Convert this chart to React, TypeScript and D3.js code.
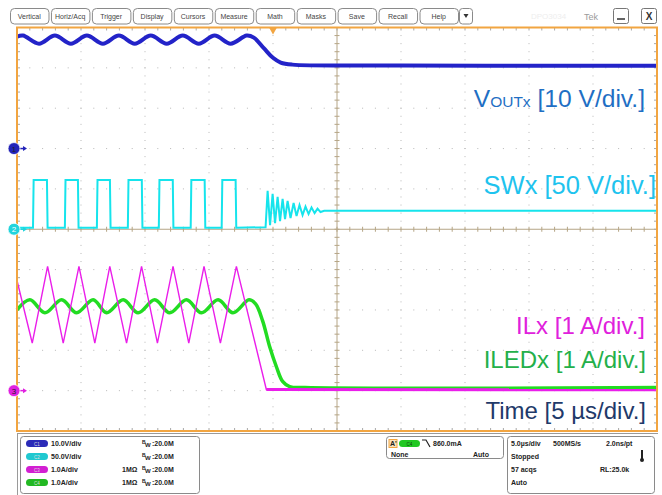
import * as d3 from 'd3'

// screen = 10 div x 5 µs, time measured from the left edge in µs
const TIME_DOMAIN: [number, number] = [0, 50]
const TRIGGER_T = 20

// per-channel units/div and ground offset (div from centre)
const CH_SCALE = { c1: 10, c2: 50, c3: 1, c4: 1 }
const CH_OFFSET = { c1: 2, c2: 0, c3: -4, c4: -4 }

// C1 VOUTx [V] : (µs, V)
const vout: [number, number][] = [
  [0, 27.7], [0.47, 28], [1.72, 26], [2.96, 28], [4.21, 26], [5.46, 28], [6.71, 26],
  [7.96, 28], [9.2, 26], [10.45, 28], [11.7, 26], [12.95, 28], [14.2, 26], [15.44, 28],
  [16.69, 26], [17.94, 28], [18.5, 27.5], [19.3, 24.8], [20.0, 22.5], [20.6, 21.3],
  [21.5, 20.8], [30, 20.6], [40, 20.5], [50, 20.5],
]

// C2 SWx [V]
const swRise = [1.25, 3.74, 6.24, 8.66, 11.08, 13.57, 15.99]
const swFall = [2.34, 4.76, 7.26, 9.75, 12.17, 14.66, 17.08]
const SW_HIGH = 61
const SW_LOW = 2
const swRing: [number, number][] = [
  [19.42, 2.5], [19.58, 47.5], [19.77, 5], [19.97, 43.8], [20.16, 7.5], [20.36, 40],
  [20.55, 10], [20.75, 37.5], [20.94, 12.5], [21.14, 35], [21.37, 13.8], [21.61, 32.5],
  [21.84, 16.3], [22.07, 30], [22.31, 17.5], [22.54, 28], [22.78, 18.8], [23.01, 27],
  [23.25, 20], [23.48, 25.6], [23.71, 21.3], [24.0, 23], [50, 23],
]

// C3 ILx [A]
const ilTroughs = [1.19, 3.61, 6.08, 8.56, 10.97, 13.42, 15.89]
const ilPeaks = [2.39, 4.84, 7.25, 9.73, 12.19, 14.61, 17.14]
const IL_PEAK = 3.08
const IL_TROUGH = 1.18
const ilStart: [number, number] = [0, 2.73]
const ilTail: [number, number][] = [[19.48, 0.03], [50, 0.02]]

// C4 ILEDx [A]
const iledPeaks = [1.01, 3.49, 5.95, 8.3, 10.76, 13.24, 15.71, 18.12]
const iledTroughs = [2.18, 4.66, 7.0, 9.46, 11.93, 14.41, 16.87]
const ILED_PEAK = 2.25
const ILED_TROUGH = 1.93
const iledStart: [number, number] = [0, 2.0]
const iledTail: [number, number][] = [
  [18.64, 2.15], [19.19, 1.73], [19.73, 1.1], [20.28, 0.58], [20.75, 0.23], [21.3, 0.1],
  [22.5, 0.075], [50, 0.075],
]

const menuItems = ['Vertical', 'Horiz/Acq', 'Trigger', 'Display', 'Cursors', 'Measure', 'Math', 'Masks', 'Save', 'Recall', 'Help']

const chRows = [
  { id: 'C1', color: '#2b2bb8', scale: '10.0V/div', imp: '' },
  { id: 'C2', color: '#20c8d0', scale: '50.0V/div', imp: '' },
  { id: 'C3', color: '#d21fd2', scale: '1.0A/div', imp: '1MΩ' },
  { id: 'C4', color: '#22b822', scale: '1.0A/div', imp: '1MΩ' },
]

const labels = [
  { main: 'V', sub: 'OUTx', rest: ' [10 V/div.]', color: '#1f6fc4', y: 107, right: 645, size: 24.6 },
  { main: 'SWx [50 V/div.]', sub: '', rest: '', color: '#1ec3ee', y: 194, right: 656, size: 25.5 },
  { main: 'ILx [1 A/div.]', sub: '', rest: '', color: '#e020dc', y: 334, right: 645, size: 24 },
  { main: 'ILEDx [1 A/div.]', sub: '', rest: '', color: '#24b04a', y: 368, right: 646, size: 24 },
  { main: 'Time [5 µs/div.]', sub: '', rest: '', color: '#1f3a6a', y: 419, right: 646, size: 24 },
]

const ORANGE = '#f2a541'
const FONT = '"Liberation Sans", Arial, sans-serif'

export default function App() {
  const x = d3.scaleLinear().domain(TIME_DOMAIN).range([17, 657])
  const y = d3.scaleLinear().domain([-5, 5]).range([431, 27.5])
  const chY = (ch: keyof typeof CH_SCALE, v: number) => y(v / CH_SCALE[ch] + CH_OFFSET[ch])

  const trace = (ch: keyof typeof CH_SCALE, curve: d3.CurveFactory) =>
    d3
      .line<[number, number]>()
      .x((d) => x(d[0]))
      .y((d) => chY(ch, d[1]))
      .curve(curve)

  // SW square wave
  const swPts: [number, number][] = [[0, SW_LOW]]
  swRise.forEach((r, i) => {
    swPts.push([r, SW_LOW], [r + 0.05, SW_HIGH], [swFall[i], SW_HIGH], [swFall[i] + 0.05, SW_LOW])
  })
  swPts.push(...swRing)

  const ilPts: [number, number][] = [ilStart]
  ilTroughs.forEach((t, i) => ilPts.push([t, IL_TROUGH], [ilPeaks[i], IL_PEAK]))
  ilPts.push(...ilTail)

  const iledPts: [number, number][] = [iledStart]
  iledPeaks.forEach((t, i) => {
    iledPts.push([t, ILED_PEAK])
    if (iledTroughs[i] !== undefined) iledPts.push([iledTroughs[i], ILED_TROUGH])
  })
  iledPts.push(...iledTail)

  const minorT = d3.range(0, 50.01, 1)
  const minorDiv = d3.range(-5, 5.01, 0.2)
  const majorT = d3.range(5, 50, 5)
  const majorDiv = d3.range(-4, 5, 1)

  const band = d3.scaleBand<string>().domain(menuItems).range([10, 458]).paddingInner(0.06)

  return (
    <svg width={662} height={495} style={{ position: 'absolute', left: 0, top: 0, background: '#fff' }} fontFamily={FONT}>
      {/* toolbar */}
      {menuItems.map((m) => (
        <g key={m}>
          <rect x={band(m)! + 0.5} y={8.5} width={band.bandwidth()} height={15.5} rx={4} fill="#fff" stroke="#8a8a8a" />
          <text x={band(m)! + band.bandwidth() / 2} y={19} fontSize={7} fill="#444" textAnchor="middle">{m}</text>
        </g>
      ))}
      <rect x={459.5} y={8.5} width={13} height={15.5} rx={3} fill="#fff" stroke="#8a8a8a" />
      <path d="M463.5,14 L468.5,14 L466,18 Z" fill="#333" />
      <text x={531} y={19} fontSize={8} fill="#eeeeee">DPO3034</text>
      <text x={584} y={20} fontSize={9} fill="#9a9a9a">Tek</text>
      <rect x={613.5} y={8.5} width={15} height={15} rx={2} fill="#fff" stroke="#777" />
      <line x1={617} x2={625} y1={19} y2={19} stroke="#333" strokeWidth={1.5} />
      <rect x={641.5} y={8.5} width={15} height={15} rx={2} fill="#fff" stroke="#777" />
      <text x={649} y={20} fontSize={10} fill="#333" textAnchor="middle" fontWeight="bold">X</text>

      {/* graticule dots */}
      {majorDiv.filter((d) => d !== 0).map((d) =>
        minorT.map((t) => <rect key={`h${d}-${t}`} x={x(t) - 0.5} y={y(d) - 0.5} width={1} height={1} fill="#b8b8b8" />)
      )}
      {majorT.filter((t) => t !== 25).map((t) =>
        minorDiv.map((d) => <rect key={`v${t}-${d}`} x={x(t) - 0.5} y={y(d) - 0.5} width={1} height={1} fill="#b8b8b8" />)
      )}
      {/* centre cross */}
      <line x1={x(25)} x2={x(25)} y1={y(5)} y2={y(-5)} stroke="#b5a586" />
      <line x1={x(0)} x2={x(50)} y1={y(0)} y2={y(0)} stroke="#b5a586" />
      {minorT.map((t) => (
        <line key={`ct${t}`} x1={x(t)} x2={x(t)} y1={y(0) - 2.5} y2={y(0) + 2.5} stroke="#b5a586" />
      ))}
      {minorDiv.map((d) => (
        <line key={`cd${d}`} x1={x(25) - 2.5} x2={x(25) + 2.5} y1={y(d)} y2={y(d)} stroke="#b5a586" />
      ))}
      {/* edge ticks */}
      {minorT.map((t) => (
        <g key={`et${t}`} stroke="#a8a8a8">
          <line x1={x(t)} x2={x(t)} y1={y(5)} y2={y(5) + 3} />
          <line x1={x(t)} x2={x(t)} y1={y(-5)} y2={y(-5) - 3} />
        </g>
      ))}
      {minorDiv.map((d) => (
        <g key={`ed${d}`} stroke="#a8a8a8">
          <line x1={x(0)} x2={x(0) + 3} y1={y(d)} y2={y(d)} />
          <line x1={x(50)} x2={x(50) - 3} y1={y(d)} y2={y(d)} />
        </g>
      ))}

      {/* traces */}
      <path d={trace('c1', d3.curveCatmullRom)(vout)!} fill="none" stroke="#2323c8" strokeWidth={4} />
      <path d={trace('c2', d3.curveLinear)(swPts)!} fill="none" stroke="#16e4ec" strokeWidth={2} />
      <path d={trace('c4', d3.curveCatmullRom)(iledPts)!} fill="none" stroke="#22dc22" strokeWidth={3.5} />
      <path d={trace('c3', d3.curveLinear)(ilPts)!} fill="none" stroke="#ea1eea" strokeWidth={1.4} />
      <path d={trace('c3', d3.curveLinear)(ilTail)!} fill="none" stroke="#ea1eea" strokeWidth={3} />

      {/* border */}
      <rect x={x(0)} y={y(5)} width={x(50) - x(0)} height={y(-5) - y(5)} fill="none" stroke={ORANGE} strokeWidth={2} />
      <path d={`M${x(TRIGGER_T) - 4},${y(5)} L${x(TRIGGER_T) + 4},${y(5)} L${x(TRIGGER_T)},${y(5) + 7} Z`} fill={ORANGE} />

      {/* channel ground markers */}
      {(['c1', 'c2', 'c3'] as const).map((ch, i) => {
        const cy = chY(ch, 0)
        const col = ['#2323b8', '#22d4dc', '#e020e0'][i]
        return (
          <g key={ch}>
            <line x1={17} x2={25} y1={cy} y2={cy} stroke={col} strokeWidth={1.5} />
            <path d={`M23,${cy - 2.5} L27,${cy} L23,${cy + 2.5} Z`} fill={col} />
            <circle cx={14} cy={cy} r={6} fill={col} stroke="#fff" strokeWidth={0.8} />
            <text x={14} y={cy + 3} fontSize={8} textAnchor="middle" fill={i === 1 ? '#fff' : '#222'}>{i + 1}</text>
          </g>
        )
      })}

      {/* trace labels */}
      {labels.map((l) => (
        <text key={l.main} x={l.right} y={l.y} textAnchor="end" fontSize={l.size} fill={l.color}>
          {l.main}
          {l.sub && <tspan fontSize={15.5}>{l.sub}</tspan>}
          {l.rest && <tspan>{l.rest}</tspan>}
        </text>
      ))}

      {/* bottom status */}
      <line x1={17} x2={658} y1={433.5} y2={433.5} stroke="#9a9a9a" />
      <line x1={17.5} x2={17.5} y1={433} y2={495} stroke="#9a9a9a" />
      <rect x={20.5} y={436.5} width={179} height={57} rx={3} fill="#fff" stroke="#8a8a8a" />
      {chRows.map((r, i) => {
        const ry = 446 + i * 13
        return (
          <g key={r.id} fontSize={7} fontWeight="bold" fill="#222">
            <rect x={26} y={ry - 6} width={22} height={7} rx={3.5} fill={r.color} />
            <text x={37} y={ry - 0.5} fontSize={4.5} textAnchor="middle" fill="#ddd" fontWeight="normal">{r.id}</text>
            <text x={51} y={ry}>{r.scale}</text>
            {r.imp && <text x={122} y={ry}>{r.imp}</text>}
            <text x={142} y={ry - 2} fontSize={5}>B</text>
            <text x={145} y={ry + 1} fontSize={6}>W</text>
            <text x={152} y={ry}>:20.0M</text>
          </g>
        )
      })}
      <rect x={386.5} y={436.5} width={117} height={22} rx={3} fill="#fff" stroke="#8a8a8a" />
      <g fontSize={7} fontWeight="bold" fill="#222">
        <rect x={389} y={439.5} width={8} height={8} fill="#fbe0b8" stroke={ORANGE} />
        <text x={390} y={446}>A'</text>
        <rect x={399} y={440} width={21} height={7} rx={3.5} fill="#22c822" />
        <text x={409.5} y={445.5} fontSize={4.5} textAnchor="middle" fill="#114411" fontWeight="normal">C4</text>
        <path d="M422,440 L426,440 L430,447" fill="none" stroke="#222" strokeWidth={1.2} />
        <text x={433} y={446}>860.0mA</text>
        <text x={391} y={457}>None</text>
        <text x={473} y={457}>Auto</text>
      </g>
      <rect x={507.5} y={436.5} width={147} height={57} rx={3} fill="#fff" stroke="#8a8a8a" />
      <g fontSize={7} fontWeight="bold" fill="#222">
        <text x={511} y={446}>5.0µs/div</text>
        <text x={553} y={446}>500MS/s</text>
        <text x={606} y={446}>2.0ns/pt</text>
        <text x={511} y={459}>Stopped</text>
        <text x={511} y={472}>57 acqs</text>
        <text x={600} y={472}>RL:25.0k</text>
        <text x={511} y={485}>Auto</text>
        <rect x={641} y={450} width={2} height={9} fill="#222" />
        <circle cx={642} cy={460} r={2} fill="#222" />
      </g>
    </svg>
  )
}
